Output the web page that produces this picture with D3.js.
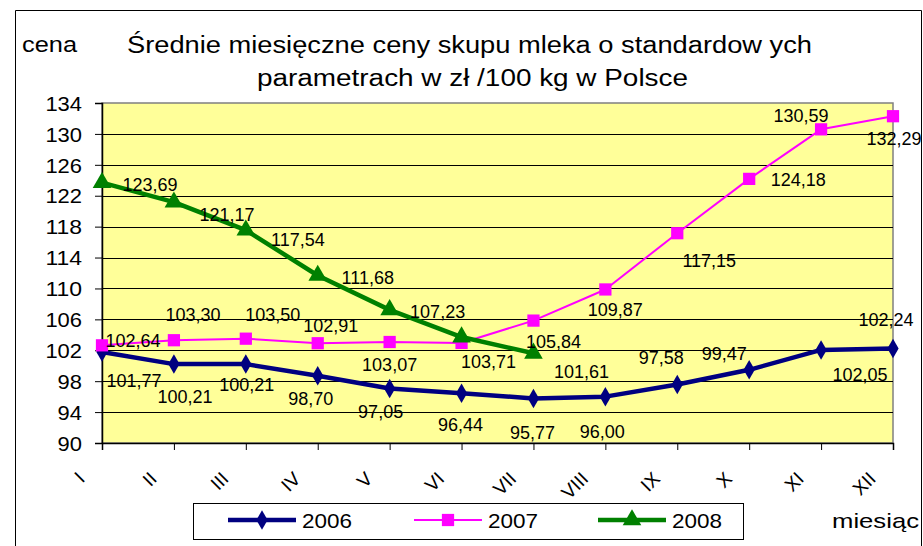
<!DOCTYPE html>
<html>
<head>
<meta charset="utf-8">
<script src="https://cdn.jsdelivr.net/npm/d3@7"></script>
<style>
  body { margin: 0; background: #fff; }
  svg { display: block; font-family: "Liberation Sans", Arial, sans-serif; }
</style>
</head>
<body>
<svg id="chart" width="923" height="546"></svg>
<script>
const months = ["I", "II", "III", "IV", "V", "VI", "VII", "VIII", "IX", "X", "XI", "XII"];
const yTicks = [90, 94, 98, 102, 106, 110, 114, 118, 122, 126, 130, 134];

const values2006 = [101.77, 100.21, 100.21, 98.70, 97.05, 96.44, 95.77, 96.00, 97.58, 99.47, 102.05, 102.24];
const values2007 = [102.64, 103.30, 103.50, 102.91, 103.07, 102.95, 105.84, 109.87, 117.15, 124.18, 130.59, 132.29];
const values2008 = [123.69, 121.17, 117.54, 111.68, 107.23, 103.71, 101.61];
// the 2007 label for VI is not visible in the source
const shown2007 = [true, true, true, true, true, false, true, true, true, true, true, true];

const svg = d3.select("#chart");
const fmt = v => d3.format(".2f")(v).replace(".", ",");

const x = d3.scalePoint().domain(months).range([102, 893]).padding(0);
const y = d3.scaleLinear().domain([90, 134]).range([443, 103]);

// outer frame
svg.append("path")
    .attr("d", "M15.5,560 V10.5 H921.5 V560")
    .attr("fill", "none").attr("stroke", "#000").attr("stroke-width", 1);

// plot background
svg.append("rect")
    .attr("x", x.range()[0]).attr("y", y(134))
    .attr("width", x.range()[1] - x.range()[0]).attr("height", y(90) - y(134))
    .attr("fill", "#ffff99").attr("stroke", "#808080").attr("stroke-width", 1.5);

// gridlines
svg.append("g").selectAll("line")
    .data(yTicks.filter(t => t > 90 && t < 134))
    .join("line")
    .attr("x1", x.range()[0]).attr("x2", x.range()[1])
    .attr("y1", d => Math.round(y(d)) + 0.5).attr("y2", d => Math.round(y(d)) + 0.5)
    .attr("stroke", "#000").attr("stroke-width", 1);

// axes
const yAxis = svg.append("g")
    .attr("transform", `translate(${x.range()[0]},0)`)
    .call(d3.axisLeft(y).tickValues(yTicks).tickSize(7).tickPadding(13).tickFormat(d3.format("d")));
yAxis.select(".domain").attr("stroke", "#000").attr("stroke-width", 1.5);
yAxis.selectAll("text")
    .style("font-size", "20px").attr("fill", "#000").attr("dy", "0.36em")
    .attr("textLength", d => String(d).length * 12.2)
    .attr("lengthAdjust", "spacingAndGlyphs");

const xAxis = svg.append("g")
    .attr("transform", `translate(0,${y(90)})`)
    .call(d3.axisBottom(x).tickSize(7).tickFormat(""));
xAxis.select(".domain").attr("stroke", "#000").attr("stroke-width", 1.5);

svg.append("g").selectAll("text")
    .data(months)
    .join("text")
    .attr("transform", d => `translate(${x(d) - 16},${y(90) + 37}) rotate(-45)`)
    .attr("text-anchor", "end")
    .style("font-size", "19px")
    .text(d => d);

// series
const series = [
    { name: "2006", values: values2006, color: "#000080", width: 4.5, marker: d3.symbolDiamond, size: 110 },
    { name: "2007", values: values2007, color: "#ff00ff", width: 2, marker: d3.symbolSquare, size: 150 },
    { name: "2008", values: values2008, color: "#008000", width: 4.5, marker: d3.symbolTriangle, size: 150 }
];

const line = d3.line().x((d, i) => x(months[i])).y(d => y(d));

series.forEach(s => {
    svg.append("path")
        .attr("d", line(s.values))
        .attr("fill", "none")
        .attr("stroke", s.color)
        .attr("stroke-width", s.width)
        .attr("stroke-linejoin", "round");
    svg.append("g").selectAll("path")
        .data(s.values)
        .join("path")
        .attr("transform", (d, i) => `translate(${x(months[i])},${y(d)})`)
        .attr("d", d3.symbol().type(s.marker).size(s.size))
        .attr("fill", s.color);
});

// data label offsets from their point, in pixels (label centre)
const labelPos2006 = [[32, 29], [11, 33], [1, 21], [-7, 23], [-9, 23], [-1, 31], [-1, 34], [-3, 35], [-16, -27], [-25, -16], [39, 25], [-7, -29]];
const labelPos2007 = [[31, -5], [19, -26], [27, -24], [13, -18], [0, 23], [0, 0], [20, 21], [10, 20], [32, 27], [49, 1], [-20, -14], [1, 22]];
const labelPos2008 = [[48, 2], [53, 13], [52, 10], [50, 2], [48, 2], [27, 25], [48, 18]];

function drawLabels(values, pos, shown) {
    svg.append("g").selectAll("text")
        .data(values.map((v, i) => ({ v, i })).filter(d => !shown || shown[d.i]))
        .join("text")
        .attr("x", d => x(months[d.i]) + pos[d.i][0])
        .attr("y", d => y(d.v) + pos[d.i][1])
        .attr("dy", "0.35em")
        .attr("text-anchor", "middle")
        .style("font-size", "18px")
        .text(d => fmt(d.v));
}
drawLabels(values2006, labelPos2006);
drawLabels(values2007, labelPos2007, shown2007);
drawLabels(values2008, labelPos2008);

// titles
function stretchedText(tx, ty, size, len, str, anchor) {
    return svg.append("text").attr("x", tx).attr("y", ty)
        .attr("text-anchor", anchor || "start")
        .style("font-size", size + "px")
        .attr("textLength", len).attr("lengthAdjust", "spacingAndGlyphs")
        .text(str);
}
stretchedText(127, 53, 23, 685, "Średnie miesięczne ceny skupu mleka o standardow ych");
stretchedText(257, 86, 23, 431, "parametrach w  zł /100 kg w  Polsce");
stretchedText(22, 52, 22, 55, "cena");
stretchedText(832, 528, 21, 87, "miesiąc");

// legend
const legend = svg.append("g");
legend.append("rect")
    .attr("x", 193.5).attr("y", 503.5).attr("width", 550).attr("height", 36)
    .attr("fill", "#fff").attr("stroke", "#000");
const legendX = [228, 414, 598];
series.forEach((s, i) => {
    const g = legend.append("g").attr("transform", `translate(${legendX[i]},520)`);
    g.append("line").attr("x1", 0).attr("x2", 68)
        .attr("stroke", s.color).attr("stroke-width", s.width);
    g.append("path").attr("transform", "translate(34,0)")
        .attr("d", d3.symbol().type(s.marker).size(s.size)).attr("fill", s.color);
    g.append("text").attr("x", 74).attr("dy", "0.36em").style("font-size", "21px")
        .attr("textLength", 50).attr("lengthAdjust", "spacingAndGlyphs").text(s.name);
});
</script>
</body>
</html>
